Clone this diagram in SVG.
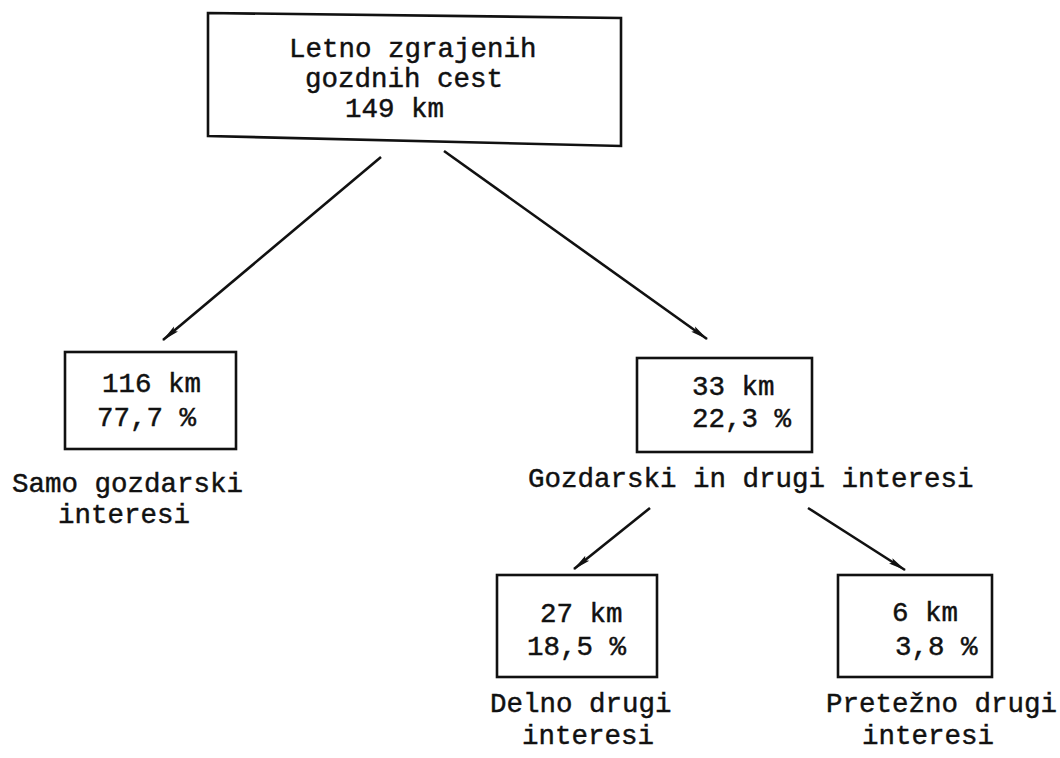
<svg xmlns="http://www.w3.org/2000/svg" width="1060" height="758" viewBox="0 0 1060 758">
<defs>
<style>
.box{fill:#fff;stroke:#111;stroke-width:2.6}
.t{font-family:"Liberation Mono","Courier New",monospace;font-size:27.5px;fill:#111;stroke:#111;stroke-width:0.45}
.c{stroke:#111;stroke-width:2.6;fill:none;marker-end:url(#ah)}
</style>
<marker id="ah" viewBox="0 0 18 8" refX="17" refY="4" markerWidth="18" markerHeight="8" markerUnits="userSpaceOnUse" orient="auto">
<path d="M0,0.8 L18,4 L0,7.2 L3,4 Z" fill="#111"/>
</marker>
</defs>
<rect width="1060" height="758" fill="#fff"/>
<g id="connectors">
<line class="c" x1="381" y1="157" x2="163" y2="340"/>
<line class="c" x1="444" y1="151" x2="707" y2="339"/>
<line class="c" x1="650" y1="508" x2="574" y2="569"/>
<line class="c" x1="808" y1="508" x2="905" y2="570"/>
</g>
<g id="root">
<polygon class="box" points="208,13 621,18 621,146 208,136"/>
<text class="t" x="289" y="57">Letno zgrajenih</text>
<text class="t" x="305" y="87">gozdnih cest</text>
<text class="t" x="345" y="117">149 km</text>
</g>
<g id="samo">
<rect class="box" x="65" y="352" width="171" height="97"/>
<text class="t" x="102" y="392">116 km</text>
<text class="t" x="97" y="426">77,7 %</text>
<text class="t" x="12" y="492">Samo gozdarski</text>
<text class="t" x="58" y="523">interesi</text>
</g>
<g id="gozdarski">
<rect class="box" x="637" y="358" width="175" height="94"/>
<text class="t" x="692" y="395">33 km</text>
<text class="t" x="692" y="427">22,3 %</text>
<text class="t" x="528" y="487">Gozdarski in drugi interesi</text>
</g>
<g id="delno">
<rect class="box" x="497" y="575" width="160" height="102"/>
<text class="t" x="540" y="622">27 km</text>
<text class="t" x="527" y="655">18,5 %</text>
<text class="t" x="490" y="712">Delno drugi</text>
<text class="t" x="522" y="744">interesi</text>
</g>
<g id="pretezno">
<rect class="box" x="838" y="575" width="154" height="102"/>
<text class="t" x="892" y="621">6 km</text>
<text class="t" x="895" y="655">3,8 %</text>
<text class="t" x="826" y="712">Pretežno drugi</text>
<text class="t" x="862" y="744">interesi</text>
</g>
</svg>
